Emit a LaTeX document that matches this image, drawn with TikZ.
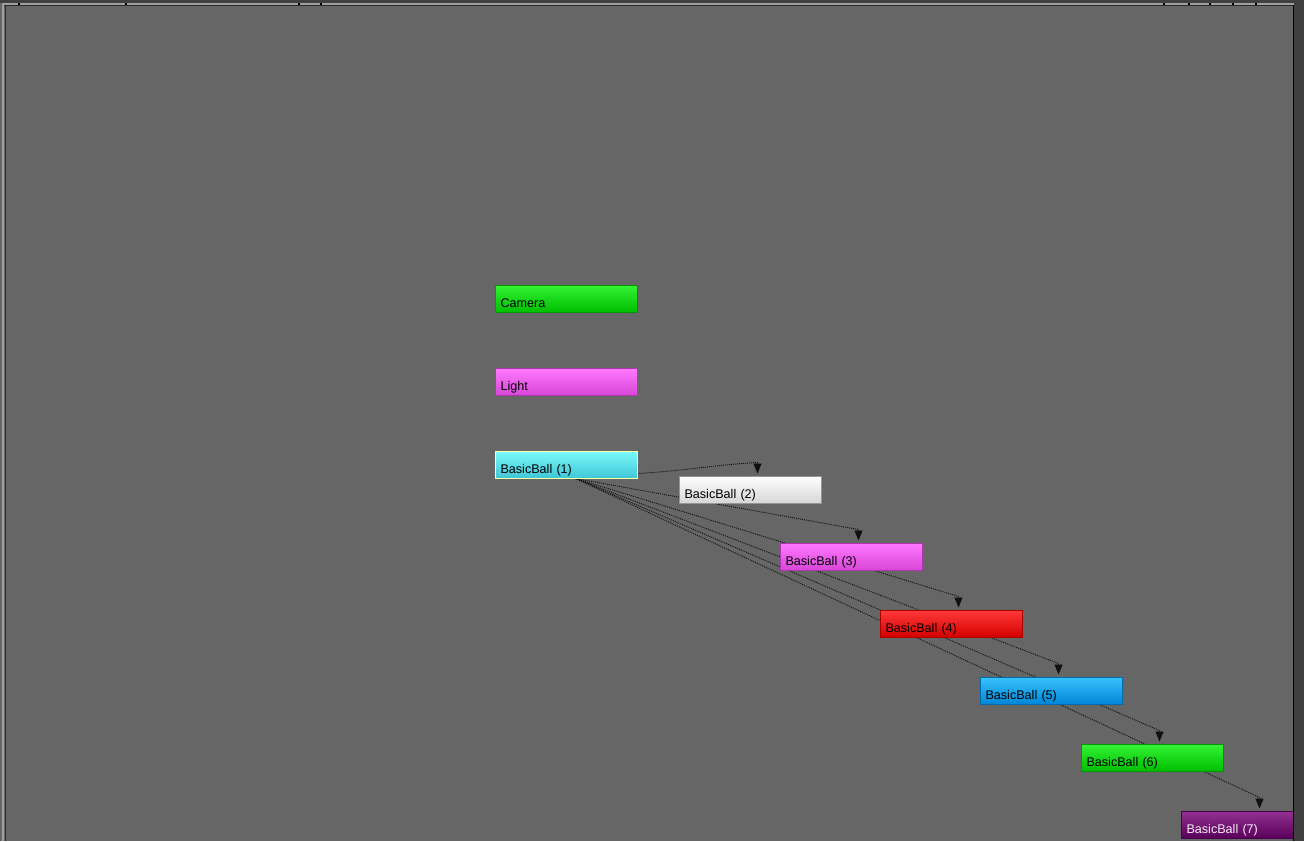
\documentclass[tikz,border=0pt]{standalone}
\usepackage{fontspec}
\setmainfont{Liberation Sans}
\usetikzlibrary{arrows.meta,calc}
\pgfdeclarelayer{bglayer}
\pgfdeclarelayer{edgelayer}
\pgfdeclarelayer{fglayer}
\pgfsetlayers{bglayer,edgelayer,main,fglayer}
\definecolor{canvas}{HTML}{666666}
\definecolor{frdark}{HTML}{404040}
\definecolor{frlight}{HTML}{A0A0A0}
\definecolor{edgecol}{HTML}{101010}
\definecolor{gtop}{HTML}{34F434}\definecolor{gbot}{HTML}{00BE00}
\definecolor{ptop}{HTML}{FF7AFF}\definecolor{pbot}{HTML}{D846D8}
\definecolor{ctop}{HTML}{7AFAFA}\definecolor{cbot}{HTML}{40C6D6}
\definecolor{wtop}{HTML}{FFFFFF}\definecolor{wbot}{HTML}{D6D6D6}
\definecolor{rtop}{HTML}{FF3A3A}\definecolor{rbot}{HTML}{D60000}
\definecolor{btop}{HTML}{3AC2FF}\definecolor{bbot}{HTML}{0086D6}
\definecolor{vtop}{HTML}{923292}\definecolor{vbot}{HTML}{5A005A}
\definecolor{seltop}{HTML}{FFFFA8}
\tikzset{
  objbox/.style={rectangle, anchor=north west, minimum width=142pt, minimum height=27pt,
    inner xsep=5.5pt, inner ysep=0pt, text height=22pt, text depth=5pt,
    text width=131pt, align=left, line width=1pt,
    font=\fontsize{12.6}{14}\selectfont, text=black},
  greenbox/.style={objbox, top color=gtop, bottom color=gbot, draw=gbot!80!black},
  pinkbox/.style={objbox, top color=ptop, bottom color=pbot, draw=pbot!80!black},
  cyanbox/.style={objbox, top color=ctop, bottom color=cbot, draw=seltop},
  whitebox/.style={objbox, top color=wtop, bottom color=wbot, draw=wbot!70!black},
  redbox/.style={objbox, top color=rtop, bottom color=rbot, draw=rbot!80!black},
  bluebox/.style={objbox, top color=btop, bottom color=bbot, draw=bbot!80!black},
  purplebox/.style={objbox, top color=vtop, bottom color=vbot, draw=vbot!80!black, text=white!90!vtop},
  linkline/.style={draw=edgecol, line width=0.9pt, dash pattern=on 1pt off 1pt,
    -{Triangle[width=8pt,length=10pt]}},
}
\begin{document}
\begin{tikzpicture}[x=1pt,y=-1pt]
\useasboundingbox (0,0) rectangle (1304,841);
\begin{pgfonlayer}{bglayer}
  \fill[canvas] (0,0) rectangle (1304,841);
\end{pgfonlayer}

\node[greenbox] (cam) at (494.5,284.5) {Camera};
\node[pinkbox] (light) at (494.5,367.5) {Light};
\node[cyanbox] (b1) at (494.5,450.5) {BasicBall (1)};
\node[whitebox] (b2) at (678.5,475.5) {BasicBall (2)};
\node[pinkbox] (b3) at (779.5,542.5) {BasicBall (3)};
\node[redbox] (b4) at (879.5,609.5) {BasicBall (4)};
\node[bluebox] (b5) at (979.5,676.5) {BasicBall (5)};
\node[greenbox] (b6) at (1080.5,743.5) {BasicBall (6)};
\node[purplebox] (b7) at (1180.5,810.5) {BasicBall (7)};

\coordinate (srcA) at ($(b1.south east)+(0,-5)$);
\coordinate (srcB) at ($(b1.south west)+(81,0)$);
\foreach \t in {2,...,7}{
  \coordinate (base\t) at ($(b\t.north west)+(79,-13)$);
  \coordinate (tip\t) at ($(b\t.north west)+(79,-2)$);
}
\begin{pgfonlayer}{edgelayer}
  \draw[linkline] (srcA) .. controls ($(srcA)+(50,-3)$) and ($(base2)+(-40,2)$) .. (base2) -- (tip2);
  \foreach \t in {3,...,7}{
    \draw[linkline] (srcB) -- (base\t) -- (tip\t);
  }
\end{pgfonlayer}

\begin{pgfonlayer}{fglayer}
  % frame
  \fill[frdark] (0,0) rectangle (1304,3);
  \fill[frdark] (1294,0) rectangle (1304,841);
  \fill[black] (1292.5,3) rectangle (1294,841);
  \fill[frlight] (2,3) rectangle (1294,4.5);
  \fill[frlight] (2,3) rectangle (3.5,841);
  \fill[frdark!70!black] (3.5,4.5) rectangle (1292.5,5.5);
  \fill[frdark!70!black] (4.5,4.5) rectangle (5.5,841);
  \foreach \xx in {18,125,298,320,1163,1188,1209,1232,1255}{
    \fill[black] (\xx,2.5) rectangle ++(1.5,2.5);
  }
\end{pgfonlayer}
\end{tikzpicture}
\end{document}
